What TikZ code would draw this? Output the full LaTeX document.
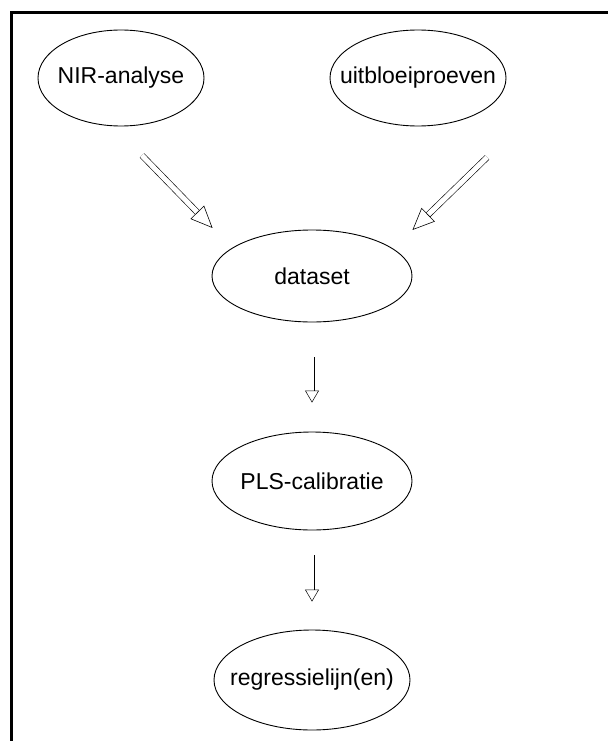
\documentclass[tikz,border=0pt]{standalone}
\usepackage{fontspec}
\setmainfont{Liberation Sans}
\usetikzlibrary{positioning, arrows.meta, shapes.geometric, calc}

\begin{document}
\begin{tikzpicture}[x=1pt, y=-1pt, font=\fontsize{23}{27}\selectfont,
  blob/.style={ellipse, draw, line width=0.9pt, inner xsep=-25pt, inner ysep=-5pt, align=center},
  hollow/.style={double, double distance=5pt, line width=0.6pt, -{Triangle[open, length=22pt, width=19pt]}},
  slim/.style={double, double distance=4pt, line width=0.5pt, -{Triangle[open, length=12pt, width=14pt]}}]

\useasboundingbox (0,0) rectangle (608,741);
\draw[line width=3pt] (11,741) -- (11,13) -- (608,13);

\node[blob, minimum width=166pt, minimum height=96pt] at (121,78) (nir) {NIR-analyse};
\node[blob, minimum width=176pt, minimum height=96pt] at (418,78) (uit) {uitbloeiproeven};
\node[blob, minimum width=200pt, minimum height=92pt] at (312,276) (data) {dataset};
\node[blob, minimum width=200pt, minimum height=98pt] at (312,481) (pls) {PLS-calibratie};
\node[blob, minimum width=196pt, minimum height=100pt] at (312,680) (reg) {regressielijn(en)};

% measurements give the data set
\draw[hollow] ($(nir.south)+(21,29)$) -- ($(data.west)+(1,-48)$);
\draw[hollow] ($(uit.south)+(69,31)$) -- ($(data.east)+(0,-46)$);

% calibration steps
\draw[slim] ($(data.south)+(0,35)$) -- ($(pls.north)+(0,-29)$);
\draw[slim] ($(pls.south)+(0,25)$) -- ($(reg.north)+(0,-28)$);
\end{tikzpicture}
\end{document}
